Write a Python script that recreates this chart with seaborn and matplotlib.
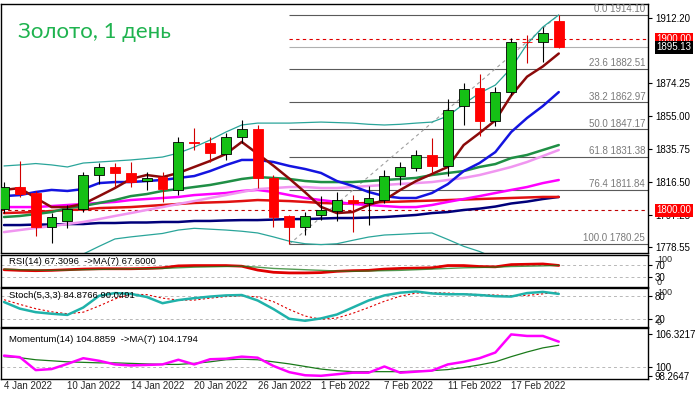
import matplotlib
matplotlib.use("Agg")
import matplotlib.pyplot as plt
import matplotlib.transforms as mtransforms
import seaborn as sns
import pandas as pd
import numpy as np

# ---- data ----
date_labels = ["4 Jan 2022", "10 Jan 2022", "14 Jan 2022", "20 Jan 2022", "26 Jan 2022",
               "1 Feb 2022", "7 Feb 2022", "11 Feb 2022", "17 Feb 2022"]

opens = [1800.6, 1813.8, 1809.9, 1790.1, 1794.0, 1800.6, 1820.4, 1825.1, 1821.9, 1816.9,
         1819.3, 1811.9, 1839.7, 1839.1, 1832.7, 1842.6, 1847.4, 1818.7, 1796.7, 1790.1,
         1797.1, 1799.6, 1806.0, 1804.1, 1806.0, 1820.0, 1824.5, 1832.3, 1825.9, 1861.0,
         1871.2, 1852.3, 1868.9, 1898.5, 1898.0, 1910.4]
closes = [1813.4, 1809.5, 1790.1, 1795.9, 1800.6, 1820.6, 1825.1, 1821.6, 1816.7, 1818.7,
          1812.6, 1839.7, 1839.2, 1833.6, 1842.6, 1847.3, 1818.7, 1795.9, 1790.4, 1796.7,
          1800.2, 1806.0, 1804.1, 1807.0, 1820.0, 1825.4, 1832.3, 1825.9, 1858.5, 1870.8,
          1852.3, 1868.9, 1898.0, 1898.0, 1903.3, 1895.13]
highs = [1816.5, 1828.9, 1811.0, 1798.3, 1803.1, 1822.5, 1827.8, 1827.8, 1828.4, 1822.5,
         1822.5, 1842.6, 1847.8, 1842.6, 1844.9, 1852.7, 1849.8, 1820.6, 1797.5, 1799.2,
         1808.3, 1810.9, 1808.9, 1814.2, 1823.5, 1828.4, 1835.2, 1842.0, 1864.8, 1874.5,
         1879.5, 1872.1, 1900.4, 1902.3, 1907.1, 1914.1]
lows = [1798.5, 1807.8, 1785.0, 1780.7, 1789.5, 1799.0, 1815.4, 1813.8, 1813.4, 1811.9,
        1805.0, 1808.9, 1835.2, 1828.4, 1829.4, 1839.1, 1813.3, 1790.4, 1780.25, 1785.6,
        1794.3, 1793.8, 1787.5, 1791.4, 1804.0, 1814.8, 1823.0, 1821.6, 1820.0, 1849.8,
        1843.4, 1849.2, 1867.3, 1885.8, 1886.7, 1895.0]

ma_fast = [1811.9, 1813.0, 1807.2, 1801.9, 1801.9, 1803.7, 1808.3, 1813.0, 1818.3, 1820.6,
           1819.4, 1821.8, 1825.3, 1828.8, 1832.9, 1839.9, 1833.0, 1826.0, 1818.5, 1810.5,
           1802.0, 1798.4, 1799.0, 1803.1, 1806.0, 1811.9, 1817.1, 1821.2, 1825.3, 1838.1,
           1845.1, 1852.5, 1867.0, 1878.0, 1884.0, 1891.5]
ma_blue = [1808.3, 1808.9, 1810.7, 1811.9, 1811.3, 1812.4, 1815.9, 1816.5, 1816.5, 1817.1,
           1817.7, 1818.9, 1820.0, 1822.9, 1826.4, 1829.4, 1829.4, 1828.2, 1825.9, 1824.1,
           1821.8, 1817.1, 1814.2, 1810.7, 1808.3, 1807.2, 1807.2, 1810.1, 1815.3, 1822.9,
           1827.6, 1834.0, 1845.7, 1853.9, 1860.9, 1869.0]
ma_green = [1796.1, 1796.7, 1797.8, 1799.0, 1801.3, 1802.5, 1804.3, 1806.0, 1808.3, 1809.5,
            1811.3, 1812.4, 1813.6, 1814.8, 1816.5, 1818.3, 1819.4, 1818.9, 1818.3, 1817.1,
            1816.5, 1816.5, 1816.5, 1817.1, 1817.7, 1818.3, 1818.9, 1820.6, 1821.8, 1822.9,
            1825.3, 1827.0, 1830.5, 1832.3, 1835.2, 1838.1]
ma_violet = [1787.3, 1788.5, 1789.7, 1790.8, 1792.0, 1793.2, 1794.9, 1796.7, 1798.4, 1800.2,
             1801.9, 1803.7, 1805.4, 1807.2, 1808.9, 1810.7, 1812.4, 1813.0, 1813.6, 1813.6,
             1813.0, 1813.0, 1813.6, 1814.2, 1814.8, 1815.4, 1815.9, 1816.5, 1817.7, 1818.9,
             1820.6, 1822.9, 1825.3, 1828.2, 1831.7, 1835.2]
ma_magenta = [1801.9, 1801.9, 1801.9, 1802.5, 1803.1, 1803.7, 1804.3, 1804.9, 1806.0, 1806.6,
              1807.2, 1807.8, 1808.9, 1809.5, 1810.1, 1811.3, 1811.9, 1810.7, 1808.9, 1807.2,
              1806.0, 1804.9, 1803.7, 1803.1, 1802.5, 1801.9, 1801.9, 1803.1, 1804.9, 1806.6,
              1808.3, 1810.1, 1811.9, 1813.6, 1815.9, 1817.7]
ma_red = [1798.4, 1798.7, 1799.0, 1799.6, 1800.2, 1800.5, 1801.3, 1801.6, 1801.9, 1802.5,
          1803.1, 1803.7, 1804.3, 1804.6, 1804.9, 1805.4, 1806.0, 1805.7, 1805.4, 1804.9,
          1804.3, 1804.0, 1804.0, 1804.3, 1804.9, 1805.1, 1805.4, 1805.7, 1806.0, 1806.3,
          1806.6, 1806.9, 1807.2, 1807.5, 1807.8, 1807.8]
ma_navy = [1791.4, 1791.4, 1791.7, 1791.7, 1792.0, 1792.0, 1792.6, 1792.6, 1792.9, 1792.9,
           1793.2, 1793.2, 1793.8, 1793.8, 1794.1, 1794.3, 1794.3, 1794.6, 1794.9, 1794.9,
           1795.2, 1795.5, 1795.5, 1795.8, 1796.1, 1796.7, 1797.3, 1798.4, 1799.0, 1800.2,
           1801.0, 1802.2, 1804.0, 1805.1, 1806.6, 1807.8]
bb_upper = [1825.9, 1826.5, 1827.3, 1826.5, 1825.3, 1827.6, 1828.2, 1828.8, 1829.4, 1830.2,
            1831.1, 1833.4, 1836.9, 1841.0, 1845.7, 1849.8, 1850.9, 1850.9, 1850.9, 1851.2,
            1851.5, 1851.2, 1850.9, 1850.2, 1849.8, 1850.2, 1850.9, 1851.5, 1855.0, 1862.0,
            1868.4, 1873.1, 1883.0, 1897.0, 1907.0, 1914.0]
bb_lower = [1760.0, 1762.0, 1765.0, 1768.0, 1771.0, 1774.5, 1779.0, 1783.3, 1784.5, 1785.5,
            1786.5, 1788.5, 1789.5, 1789.0, 1788.5, 1787.8, 1786.8, 1784.5, 1782.0, 1780.5,
            1780.0, 1780.5, 1782.5, 1784.4, 1785.6, 1786.0, 1786.5, 1786.8, 1783.0, 1779.0,
            1776.0, 1772.0, 1767.0, 1762.0, 1758.0, 1754.0]

fib_levels = [0.0, 23.6, 38.2, 50.0, 61.8, 76.4, 100.0]
fib_prices = [1914.10, 1882.51, 1862.97, 1847.17, 1831.38, 1811.84, 1780.25]
price_ticks = [1912.20, 1874.25, 1855.00, 1835.75, 1816.50, 1797.25, 1778.55]

rsi = [54, 52, 51, 52, 54, 56, 57, 57, 57, 58, 60, 66, 67, 67, 67, 65, 53, 46, 44, 44,
       45, 49, 51, 52, 56, 58, 59, 60, 67, 67, 64, 63, 70, 71, 72, 67.3]
rsi_ma = [56, 54, 53, 52, 53, 54, 55, 56, 57, 57, 58, 60, 62, 63, 64, 65, 62, 58, 56, 54,
          52, 50, 49, 50, 51, 52, 54, 56, 58, 60, 61, 62, 64, 65, 66, 67.6]
stoch_k = [64, 47, 38, 34, 31, 50, 80, 87, 85, 77, 61, 69, 74, 78, 81, 82, 68, 46, 21, 16,
           22, 32, 50, 68, 81, 88, 91, 86, 84, 84, 82, 79, 78, 87, 90, 84.9]
stoch_d = [70, 58, 47, 39, 34, 38, 54, 72, 84, 83, 74, 69, 69, 74, 78, 80, 77, 65, 45, 28,
           20, 23, 35, 50, 66, 79, 87, 88, 87, 85, 83, 82, 80, 81, 85, 90.0]
momentum = [102.2, 101.9, 99.4, 99.6, 100.6, 101.7, 101.2, 100.5, 100.3, 100.4, 100.5, 101.4,
            100.5, 101.5, 101.6, 102.0, 101.8, 100.2, 99.0, 98.4, 98.3, 98.6, 98.9, 98.9,
            100.1, 98.9, 99.1, 99.3, 100.5, 101.0, 101.7, 102.8, 106.3, 106.0, 106.0, 104.9]
momentum_ma = [102.0, 101.8, 101.4, 101.2, 101.0, 100.9, 100.8, 100.8, 100.7, 100.6, 100.5,
               100.5, 100.7, 101.0, 101.4, 101.5, 101.4, 101.0, 100.6, 100.1, 99.6, 99.3,
               99.1, 99.1, 99.1, 99.1, 99.2, 99.3, 99.5, 99.9, 100.4, 101.0, 102.0, 102.9,
               103.7, 104.2]

df = pd.DataFrame({"bar": np.arange(len(opens)), "open": opens, "close": closes,
                   "high": highs, "low": lows})

# ---- styling ----
sns.set_theme(style="white")
plt.rcParams["font.family"] = ["Liberation Sans", "DejaVu Sans"]

W, H = 696, 396
fig = plt.figure(figsize=(W / 100, H / 100), dpi=100)
fig.patch.set_facecolor("white")


def px_axes(x0, y0, x1, y1):
    return fig.add_axes([x0 / W, 1 - y1 / H, (x1 - x0) / W, (y1 - y0) / H])


ax = px_axes(1, 4, 648, 253)
ax_rsi = px_axes(1, 255, 648, 287)
ax_sto = px_axes(1, 288, 648, 327)
ax_mom = px_axes(1, 328, 648, 379)

XL = (-0.19, 40.63)
for a in (ax, ax_rsi, ax_sto, ax_mom):
    a.set_xlim(*XL)
    a.set_facecolor("white")
    for s in a.spines.values():
        s.set_color("black")
        s.set_linewidth(1.0)
    a.yaxis.tick_right()
    a.tick_params(axis="y", which="both", length=3, width=0.8, color="black",
                  labelsize=7, pad=2, labelcolor="black")
    a.set_xlabel("")
    a.set_ylabel("")

# ---- main panel ----
ax.set_ylim(1775.1, 1920.4)

# bollinger + moving averages
line_specs = [
    (bb_upper, "#2aa59a", 0.9),
    (bb_lower, "#2aa59a", 0.9),
    (ma_navy, "#00007a", 1.8),
    (ma_red, "#e01010", 1.8),
    (ma_magenta, "#ff00ff", 1.8),
    (ma_violet, "#f096f0", 1.8),
    (ma_green, "#1f8f45", 1.8),
    (ma_blue, "#1414e0", 1.8),
    (ma_fast, "#8b0a0a", 1.8),
]
for vals, col, lw in line_specs:
    sns.lineplot(x=df["bar"], y=vals, ax=ax, color=col, linewidth=lw, zorder=2)

# horizontal levels
fib_start = 18
ax.hlines(1800.0, XL[0], XL[1], colors="#c00000", linestyles=(0, (3, 3)), linewidth=0.8, zorder=1)
ax.hlines(1900.0, fib_start, XL[1], colors="#e00000", linestyles=(0, (3, 3)), linewidth=0.8, zorder=1)
ax.hlines(1895.13, fib_start, XL[1], colors="#b0b0b0", linewidth=0.8, zorder=1)
ax.hlines(fib_prices, fib_start, XL[1], colors="#5a5a5a", linewidth=0.8, zorder=1)
for lev, p in zip(fib_levels, fib_prices):
    ax.text(40.45, p + 0.5, f"{lev:.1f} {p:.2f}", ha="right", va="bottom",
            fontsize=7, color="#7a7a7a", zorder=3)
# fibo trend line
ax.plot([fib_start, 35], [fib_prices[-1], fib_prices[0]], color="#a0a0a0",
        linestyle=(0, (3, 3)), linewidth=0.8, zorder=1)

# candles
up = df[df["close"] >= df["open"]]
dn = df[df["close"] < df["open"]]
ax.vlines(up["bar"], up["low"], up["high"], colors="black", linewidth=0.8, zorder=3)
ax.vlines(dn["bar"], dn["low"], dn["high"], colors="#d00000", linewidth=0.8, zorder=3)
ax.bar(up["bar"], (up["close"] - up["open"]).clip(lower=0.4), bottom=up["open"], width=0.62,
       color="#15c015", edgecolor="black", linewidth=0.6, zorder=4)
ax.bar(dn["bar"], (dn["close"] - dn["open"]).clip(upper=-0.4), bottom=dn["open"], width=0.62,
       color="#ff0000", edgecolor="#ff0000", linewidth=0.6, zorder=4)

ax.set_yticks(price_ticks)
ax.set_yticklabels([f"{t:.2f}" for t in price_ticks])
ax.set_xticks([])

# price tags on the right scale
tag_tr = mtransforms.blended_transform_factory(ax.transAxes, ax.transData)
for price, fc in [(1900.0, "#ff0000"), (1895.13, "black"), (1800.0, "#ff0000")]:
    ax.text(1.013, price, f"{price:.2f}", transform=tag_tr, ha="left", va="center",
            fontsize=7, color="white", zorder=10, clip_on=False,
            bbox=dict(boxstyle="square,pad=0.15", fc=fc, ec="none"))

fig.text(18 / W, 1 - 32 / H, "Золото, 1 день", color="#1fb34f", fontsize=16,
         va="center", ha="left", family=["Lato", "DejaVu Sans"])

# ---- RSI ----
ax_rsi.set_ylim(0, 100)
ax_rsi.hlines([70, 30], *XL, colors="#b8b8b8", linestyles=(0, (3, 3)), linewidth=0.7)
sns.lineplot(x=df["bar"], y=rsi, ax=ax_rsi, color="#e00000", linewidth=2.0)
sns.lineplot(x=df["bar"], y=rsi_ma, ax=ax_rsi, color="#1a7a1a", linewidth=1.0, alpha=0.75)
ax_rsi.set_yticks([70, 30])
ax_rsi.set_yticklabels(["70", "30"])
ax_rsi.set_xticks([])
ax_rsi.text(0.012, 0.93, "RSI(14) 67.3096  ->MA(7) 67.6000", transform=ax_rsi.transAxes,
            ha="left", va="top", fontsize=6.8, color="black")
ax_rsi.text(1.014, 1.0, "100", transform=ax_rsi.transAxes, ha="left", va="top",
            fontsize=6.5, clip_on=False)
ax_rsi.text(1.014, 0.0, "0", transform=ax_rsi.transAxes, ha="left", va="bottom",
            fontsize=6.5, clip_on=False)

# ---- Stochastic ----
ax_sto.set_ylim(0, 100)
ax_sto.hlines([80, 20], *XL, colors="#b8b8b8", linestyles=(0, (3, 3)), linewidth=0.7)
sns.lineplot(x=df["bar"], y=stoch_d, ax=ax_sto, color="#e00000", linewidth=0.8,
             linestyle=(0, (2, 2)))
sns.lineplot(x=df["bar"], y=stoch_k, ax=ax_sto, color="#20b2aa", linewidth=1.8)
ax_sto.set_yticks([80, 20])
ax_sto.set_yticklabels(["80", "20"])
ax_sto.set_xticks([])
ax_sto.text(0.012, 0.93, "Stoch(5,3,3) 84.8766 90.0491", transform=ax_sto.transAxes,
            ha="left", va="top", fontsize=6.8, color="black")
ax_sto.text(1.014, 1.0, "100", transform=ax_sto.transAxes, ha="left", va="top",
            fontsize=6.5, clip_on=False)
ax_sto.text(1.014, 0.0, "0", transform=ax_sto.transAxes, ha="left", va="bottom",
            fontsize=6.5, clip_on=False)

# ---- Momentum ----
ax_mom.set_ylim(97.68, 107.54)
ax_mom.hlines(100, *XL, colors="#b8b8b8", linestyles=(0, (3, 3)), linewidth=0.7)
sns.lineplot(x=df["bar"], y=momentum_ma, ax=ax_mom, color="#1a7a1a", linewidth=0.9)
sns.lineplot(x=df["bar"], y=momentum, ax=ax_mom, color="#ff00ff", linewidth=1.8)
ax_mom.set_yticks([106.3217, 100, 98.2647])
ax_mom.set_yticklabels(["106.3217", "100", "98.2647"])
ax_mom.text(0.012, 0.86, "Momentum(14) 104.8859  ->MA(7) 104.1794", transform=ax_mom.transAxes,
            ha="left", va="top", fontsize=6.8, color="black")
ax_mom.set_xticks(np.arange(0, 36, 4))
ax_mom.set_xticklabels(date_labels, ha="left", fontsize=7)
ax_mom.tick_params(axis="x", length=0, pad=1.5, labelsize=7)

fig.savefig("out.png", dpi=100)
